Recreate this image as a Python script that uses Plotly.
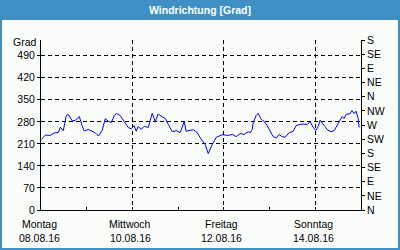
import pandas as pd
import plotly.graph_objects as go

# ---- data ----
start = "2016-08-08 00:00"
hours = [0.2, 2.3, 4.9, 7.0, 9.1, 10.1, 11.7, 13.3, 14.3, 16.4, 18.0, 20.1, 21.6, 22.7,
         24.8, 26.9, 28.5, 30.1, 32.2, 33.7, 35.3, 36.9, 38.5, 39.5, 41.6, 43.7, 45.8,
         47.4, 48.9, 50.0, 51.0, 52.6, 54.2, 56.3, 57.4, 58.4, 60.0, 61.5, 63.6, 65.2,
         66.8, 68.9, 71.0, 73.1, 75.2, 76.2, 78.3, 79.9, 82.0, 83.6, 86.2, 87.8, 89.9,
         92.0, 95.1, 98.3, 100.4, 102.5, 104.6, 106.7, 108.8, 109.8, 110.9, 111.4,
         112.9, 114.0, 115.6, 117.2, 118.7, 120.3, 121.9, 123.5, 125.0, 126.6, 128.2,
         130.3, 132.4, 133.9, 136.0, 138.1, 139.7, 141.3, 142.9, 144.4, 145.5, 146.5,
         147.6, 149.1, 150.7, 152.3, 153.9, 155.4, 157.0, 158.1, 159.1, 160.2, 162.3,
         163.3, 164.4, 165.4, 166.5, 167.0]
degrees = [224, 238, 237, 245, 246, 263, 252, 300, 304, 283, 285, 297, 268, 251,
           256, 250, 245, 235, 254, 290, 282, 278, 300, 307, 300, 281, 262,
           258, 268, 250, 265, 256, 266, 262, 288, 307, 281, 305, 296, 291,
           272, 249, 252, 246, 281, 250, 253, 255, 246, 229, 208, 179, 208,
           231, 239, 237, 240, 233, 243, 240, 249, 245, 256, 277,
           300, 307, 288, 281, 268, 249, 233, 229, 240, 233, 231,
           246, 250, 268, 272, 273, 271, 281, 262, 253, 265, 285,
           275, 265, 253, 249, 252, 268, 284, 297, 291, 304, 306,
           316, 306, 314, 291, 262]

x_tick_dates = ["2016-08-08", "2016-08-10", "2016-08-12", "2016-08-14"]
x_tick_days = ["Montag", "Mittwoch", "Freitag", "Sonntag"]
x_tick_labels = ["08.08.16", "10.08.16", "12.08.16", "14.08.16"]
left_ticks = [0, 70, 140, 210, 280, 350, 420, 490]
right_ticks = [0, 45, 90, 135, 180, 225, 270, 315, 360, 405, 450, 495, 540]
right_labels = ["N", "NE", "E", "SE", "S", "SW", "W", "NW", "N", "NE", "E", "SE", "S"]
title_text = "Windrichtung [Grad]"

times = pd.Timestamp(start) + pd.to_timedelta(hours, unit="h")

FONT = "Liberation Sans"
BLUE = "#3d8fc4"
W, H = 400, 250
ML, MR, MT, MB = 41, 39, 40, 40
PW, PH = W - ML - MR, H - MT - MB

fig = go.Figure()
fig.add_trace(go.Scatter(x=times, y=degrees, mode="lines",
                         line=dict(color="#0000ff", width=1), showlegend=False))
fig.add_trace(go.Scatter(x=[times[0]], y=[None], yaxis="y2", showlegend=False, hoverinfo="skip"))

annotations = [
    dict(text="<b>" + title_text + "</b>", xref="paper", yref="paper",
         x=(200 - ML) / PW, y=1 + (MT - 10) / PH, xanchor="center", yanchor="middle",
         showarrow=False, font=dict(color="white", size=10.5, family=FONT)),
    dict(text="Grad", xref="paper", yref="paper", x=-2 / PW, y=1 - 2 / PH,
         xanchor="right", yanchor="middle", showarrow=False, font=dict(size=10.5)),
]
for d, day, lab in zip(x_tick_dates, x_tick_days, x_tick_labels):
    annotations.append(dict(text=day, x=d, xref="x", yref="paper", y=-14 / PH,
                            xanchor="center", yanchor="middle", xshift=-2,
                            showarrow=False, font=dict(size=10.5)))
    annotations.append(dict(text=lab, x=d, xref="x", yref="paper", y=-28 / PH,
                            xanchor="center", yanchor="middle", xshift=-2,
                            showarrow=False, font=dict(size=10.5)))

fig.update_layout(
    width=W, height=H,
    margin=dict(l=ML, r=MR, t=MT, b=MB, pad=0),
    paper_bgcolor="#fbfdfb", plot_bgcolor="#fbfdfb",
    font=dict(family=FONT, size=10.5, color="#000000"),
    xaxis=dict(
        type="date", range=["2016-08-08 00:00", "2016-08-15 00:00"],
        tickvals=x_tick_dates, showticklabels=False,
        ticks="inside", ticklen=3, tickcolor="black",
        showgrid=True, gridcolor="black", griddash="4px,3px", gridwidth=1,
        showline=True, linecolor="black", linewidth=1,
        minor=dict(dtick=86400000, ticks="inside", ticklen=3, tickcolor="black", showgrid=False),
        zeroline=False,
    ),
    yaxis=dict(
        range=[0, 540], tickvals=left_ticks, ticks="outside", ticklen=3, tickcolor="black",
        showgrid=True, gridcolor="black", griddash="4px,3px", gridwidth=1,
        showline=True, linecolor="black", linewidth=1, zeroline=False,
        tickfont=dict(size=10.5),
    ),
    yaxis2=dict(
        range=[0, 540], tickvals=right_ticks, ticktext=right_labels, overlaying="y", side="right",
        ticks="outside", ticklen=3, tickcolor="black", showgrid=False,
        showline=True, linecolor="black", linewidth=1, zeroline=False,
        tickfont=dict(size=10.5),
    ),
    shapes=[
        dict(type="rect", xref="paper", yref="paper",
             x0=-ML / PW, x1=1 + MR / PW, y0=1 + (MT - 20) / PH, y1=1 + MT / PH,
             fillcolor=BLUE, line=dict(width=0), layer="below"),
        dict(type="rect", xref="paper", yref="paper",
             x0=-ML / PW, x1=1 + MR / PW, y0=-MB / PH, y1=1 + MT / PH,
             fillcolor="rgba(0,0,0,0)", line=dict(color=BLUE, width=4)),
    ],
    annotations=annotations,
)

fig.write_html("out.html")
